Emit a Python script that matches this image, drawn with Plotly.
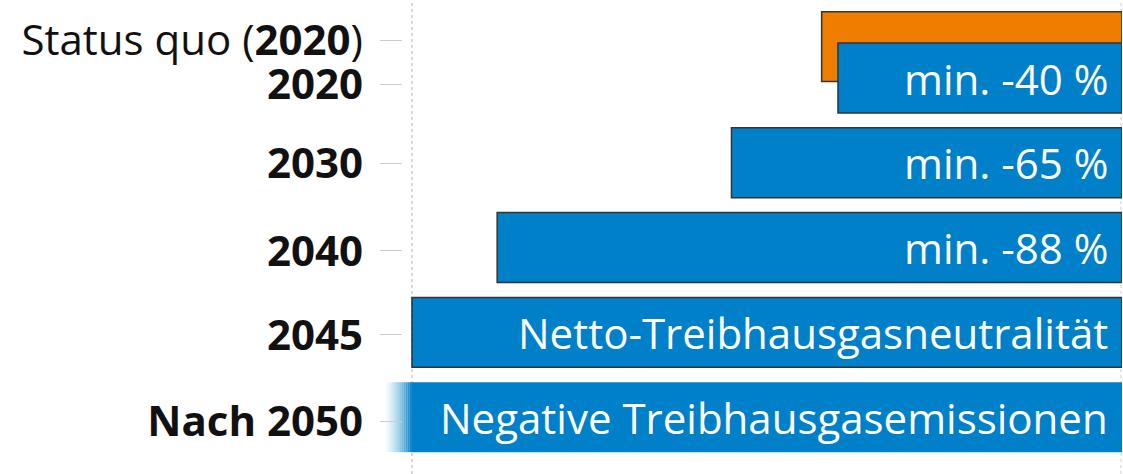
import plotly.graph_objects as go

# ---- data ----
bar_labels = ["Status quo (2020)", "2020", "2030", "2040", "2045", "Nach 2050"]
bar_pos = [-0.37, 0.0, 1.0, 2.0, 3.0, 4.0]          # vertical slot of each bar
bar_values = [42.3, 40.0, 55.0, 88.0, 100.0, 100.0]  # bar length (% of full scale, axis reversed)
bar_texts = ["", "min. -40 %", "min. -65 %", "min. -88 %",
             "Netto-Treibhausgasneutralität", "Negative Treibhausgasemissionen"]
tick_pos = [-0.44, 0.08, 1.01, 2.04, 3.03, 4.05]
tick_text = ["Status quo (<b>2020</b>)", "<b>2020</b>", "<b>2030</b>", "<b>2040</b>",
             "<b>2045</b>", "<b>Nach 2050</b>"]
fade_extent = [4.1]       # how far the last bar fades out beyond full scale
fade_steps = [14]

BLUE = "#0080C9"
ORANGE = "#EE7D00"
FONT = "Open Sans"

fig = go.Figure()

# status quo (orange, behind)
fig.add_trace(go.Bar(
    y=[bar_pos[0]], x=[bar_values[0]], orientation="h", base=0,
    width=0.825, marker=dict(color=ORANGE, line=dict(color="#333333", width=1.5)),
    hoverinfo="skip", showlegend=False))

# targets (blue)
line_widths = [1.5, 1.5, 1.5, 1.5, 0]
fig.add_trace(go.Bar(
    y=bar_pos[1:], x=bar_values[1:], orientation="h", base=0,
    width=0.825, marker=dict(color=BLUE, line=dict(color="#333333", width=line_widths)),
    hoverinfo="skip", showlegend=False))

# fade-out of the last bar (gradient approximated by thin segments)
n = fade_steps[0]
step = fade_extent[0] / n
fade_bases = [bar_values[-1] + i * step for i in range(n)]
fade_cols = [f"rgba(0,128,201,{(1 - (i + 0.5) / n) ** 1.6:.3f})" for i in range(n)]
fig.add_trace(go.Bar(
    y=[bar_pos[-1]] * n, x=[step] * n, base=fade_bases, orientation="h",
    width=0.825, marker=dict(color=fade_cols, line=dict(width=0)),
    hoverinfo="skip", showlegend=False))

# labels inside bars
for p, t in zip(bar_pos, bar_texts):
    if t:
        fig.add_annotation(x=0, y=p, xref="x", yref="y", text=t, showarrow=False,
                           xanchor="right", yanchor="middle", xshift=-12,
                           font=dict(family=FONT, size=42, color="white"))

# dotted reference lines
fig.add_shape(type="line", xref="x", yref="paper", x0=bar_values[-2], x1=bar_values[-2],
              y0=0, y1=1, line=dict(color="#b0b0b0", width=1, dash="dot"), layer="below")
fig.add_shape(type="line", xref="x", yref="paper", x0=0.15, x1=0.15,
              y0=0, y1=1, line=dict(color="#d0d0d0", width=1, dash="dot"), layer="below")

fig.update_layout(
    width=1123, height=474,
    margin=dict(l=380, r=1, t=0, b=0),
    paper_bgcolor="white", plot_bgcolor="white",
    barmode="overlay",
    xaxis=dict(range=[104.5, 0], visible=False, fixedrange=True),
    yaxis=dict(range=[4.67, -0.92], tickmode="array", tickvals=tick_pos, ticktext=tick_text,
               ticks="inside", ticklen=22, tickcolor="#cccccc", tickwidth=1,
               showgrid=False, zeroline=False, showline=False, fixedrange=True,
               ticklabelstandoff=16,
               tickfont=dict(family=FONT, size=42, color="#111111")),
    font=dict(family=FONT),
)

fig.write_html("out.html", config={"displayModeBar": False},
               post_script="document.body.style.margin='0';document.body.style.overflow='hidden';")
